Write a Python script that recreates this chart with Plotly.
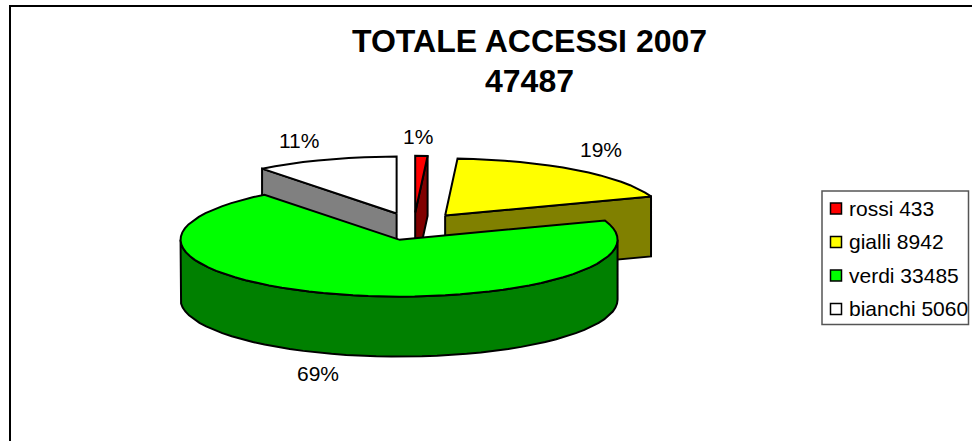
import numpy as np
import plotly.graph_objects as go

CATEGORIES = ["rossi", "gialli", "verdi", "bianchi"]
ACCESSES = [433, 8942, 33485, 5060]
PERCENT_LABELS = ["1%", "19%", "69%", "11%"]
TITLE_LINES = ["TOTALE ACCESSI 2007", "47487"]
TOP_COLORS = ["#FF0000", "#FFFF00", "#00FF00", "#FFFFFF"]
SIDE_COLORS = ["#800000", "#808000", "#008000", "#808080"]

W, H = 972, 441
CX, CY, RX, RY, DEPTH, EXPLODE = 413.7, 226.5, 218.5, 57, 60, 0.24
LABEL_POS = [(418, 136), (601, 149), (318, 373), (299, 140)]
FONT = "Liberation Sans"

fig = go.Figure()
line = dict(color="black", width=2)

def poly(xs, ys, color):
    fig.add_trace(go.Scatter(x=list(xs), y=list(ys), mode="lines", fill="toself",
                             fillcolor=color, line=line, hoverinfo="skip", showlegend=False))

total = sum(ACCESSES)
bounds = 90 - 360 * np.cumsum([0] + ACCESSES) / total
slices = []
for i in range(4):
    a0, a1 = bounds[i], bounds[i + 1]
    mid = np.radians((a0 + a1) / 2)
    ax = CX + EXPLODE * RX * np.cos(mid)
    ay = CY - EXPLODE * RY * np.sin(mid)
    slices.append((a0, a1, ax, ay))

def arc(a0, a1, ax, ay):
    n = max(2, int(abs(a1 - a0) / 4) + 1)
    t = np.radians(np.linspace(a0, a1, n))
    return ax + RX * np.cos(t), ay - RY * np.sin(t)

def draw(i):
    a0, a1, ax, ay = slices[i]
    # radial wall on the edge that faces the viewer
    if i != 2:
        ang = np.radians(a0 if i == 3 else a1)
        ex, ey = ax + RX * np.cos(ang), ay - RY * np.sin(ang)
        poly([ax, ex, ex, ax, ax], [ay, ey, ey + DEPTH, ay + DEPTH, ay], SIDE_COLORS[i])
    # outer wall for the front half of the rim
    lo, hi = max(a1, -180), min(a0, 0)
    if hi > lo:
        xs, ys = arc(hi, lo, ax, ay)
        poly(np.r_[xs, xs[::-1], xs[0]], np.r_[ys, ys[::-1] + DEPTH, ys[0]], SIDE_COLORS[i])
    xs, ys = arc(a0, a1, ax, ay)
    poly(np.r_[ax, xs, ax], np.r_[ay, ys, ay], TOP_COLORS[i])

for i in (3, 1, 0, 2):
    draw(i)

# Legend swatches and labels
for i, (name, val) in enumerate(zip(CATEGORIES, ACCESSES)):
    y = 208.5 + i * 33.5
    fig.add_trace(go.Scatter(x=[836], y=[y], mode="markers", hoverinfo="skip", showlegend=False,
                             marker=dict(symbol="square", size=11, color=TOP_COLORS[i],
                                         line=dict(color="black", width=1.5))))
    fig.add_annotation(x=847, y=y - 0.5, text=f"{name} {val}", xanchor="left", yanchor="middle",
                       showarrow=False, font=dict(family=FONT, size=21, color="black"))

for txt, (lx, ly) in zip(PERCENT_LABELS, LABEL_POS):
    fig.add_annotation(x=lx, y=ly, text=txt, showarrow=False,
                       font=dict(family=FONT, size=21, color="black"))

for txt, ty in zip(TITLE_LINES, (41, 81)):
    fig.add_annotation(x=529, y=ty, text=f"<b>{txt}</b>", showarrow=False,
                       font=dict(family=FONT, size=32, color="black"))

shapes = [
    dict(type="rect", x0=10, y0=6, x1=990, y1=460, line=dict(color="black", width=2)),
    dict(type="rect", x0=822, y0=191, x1=968.5, y1=324.5, line=dict(color="#555555", width=1.5)),
]
fig.update_layout(
    width=W, height=H, margin=dict(l=0, r=0, t=0, b=0), showlegend=False,
    paper_bgcolor="white", plot_bgcolor="white", shapes=shapes,
    xaxis=dict(range=[0, W], visible=False, fixedrange=True),
    yaxis=dict(range=[H, 0], visible=False, fixedrange=True),
)
fig.write_html("out.html", config=dict(displayModeBar=False),
               post_script="document.body.style.margin='0';document.body.style.overflow='hidden';")
